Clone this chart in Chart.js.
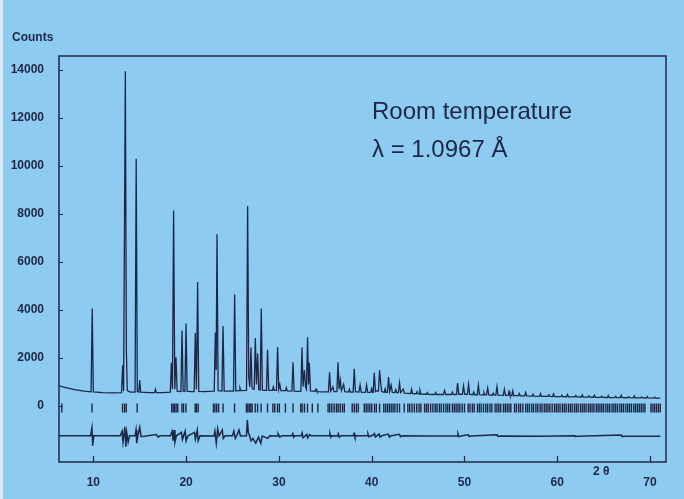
<!DOCTYPE html>
<html><head><meta charset="utf-8">
<script src="https://cdn.jsdelivr.net/npm/chart.js@4/dist/chart.umd.min.js"></script>
<style>
html,body{margin:0;padding:0;background:#8dcbf0;}
#wrap{position:relative;width:684px;height:499px;}
canvas{display:block;}
</style></head><body>
<div id="wrap"><canvas id="c" width="684" height="499"></canvas></div>
<script>
// ---- data ----
const xTickLabels = [10, 20, 30, 40, 50, 60, 70];
const yTickLabels = [0, 2000, 4000, 6000, 8000, 10000, 12000, 14000];

// observed powder pattern: [2theta, counts]
const observed = [
 [6.30,840],[7.0,770],[8.0,680],[9.0,620],
 [9.76,590],[9.88,4060],[10.0,590],[11.0,560],[12.0,545],
 [13.04,560],[13.16,1700],[13.26,620],[13.45,13950],[13.56,2300],[13.66,640],[14.0,580],
 [14.5,580],[14.62,10300],[14.74,600],[14.9,580],[15.0,1080],[15.1,580],[16.0,560],
 [16.6,560],[16.7,700],[16.8,560],[17.5,560],
 [18.3,580],[18.41,1800],[18.53,700],[18.65,8150],[18.78,700],[18.91,2030],[19.03,620],
 [19.44,600],[19.56,3150],[19.68,620],[19.87,610],[19.99,3440],[20.11,620],[20.5,600],
 [20.87,600],[20.99,3040],[21.11,700],[21.24,5170],[21.36,610],[22.0,600],[22.5,610],
 [23.03,620],[23.15,3060],[23.24,1500],[23.33,7160],[23.45,640],
 [23.86,620],[23.98,3330],[24.10,620],[24.6,620],
 [25.11,620],[25.23,4650],[25.35,630],[25.7,640],[25.8,760],[25.9,640],
 [26.51,650],[26.63,8330],[26.75,1200],[26.87,800],[26.99,2440],[27.1,760],[27.2,700],
 [27.34,700],[27.46,2830],[27.58,900],[27.71,2190],[27.83,680],
 [27.98,670],[28.10,4060],[28.22,660],[28.45,650],
 [28.66,650],[28.78,2340],[28.9,650],[29.3,650],[29.4,800],[29.5,650],
 [29.74,650],[29.86,2460],[29.98,700],[30.1,900],[30.22,640],[30.7,640],[30.8,760],[30.9,630],
 [31.40,620],[31.52,1820],[31.64,620],[32.1,610],
 [32.37,620],[32.49,2440],[32.6,800],[32.75,1500],[32.87,800],[32.97,700],[33.09,2860],
 [33.19,900],[33.28,1800],[33.4,630],[33.9,610],[34.0,700],[34.1,600],[34.8,590],
 [35.34,590],[35.46,1410],[35.58,620],[35.82,800],[35.94,600],
 [36.25,600],[36.37,1820],[36.49,700],[36.62,1080],[36.74,650],[36.98,900],[37.1,600],
 [37.5,580],[37.6,700],[37.7,580],[38.0,580],[38.12,1550],[38.24,600],
 [38.63,580],[38.75,870],[38.87,580],[39.33,570],[39.45,870],[39.57,570],
 [39.9,570],[40.0,720],[40.1,570],[40.16,570],[40.28,1380],[40.4,600],[40.6,640],
 [40.73,620],[40.85,1490],[40.96,1000],[41.08,600],[41.35,570],[41.45,720],[41.55,570],
 [41.70,570],[41.82,1210],[41.94,620],[42.1,870],[42.22,570],[42.5,560],[42.6,680],[42.7,560],
 [42.88,560],[43.0,960],[43.12,560],[43.4,700],[43.52,540],[43.9,530],
 [44.2,520],[44.3,700],[44.4,520],[44.8,510],[44.9,600],[45.0,510],
 [45.1,500],[45.2,650],[45.3,500],[45.9,490],[46.0,560],[46.1,490],
 [46.8,480],[46.9,560],[47.0,480],[47.74,480],[47.86,650],[47.98,480],
 [48.6,480],[48.7,580],[48.8,480],[49.14,480],[49.26,960],[49.38,490],
 [49.78,490],[49.9,830],[50.02,490],[50.32,490],[50.44,900],[50.56,480],
 [50.9,470],[51.0,580],[51.1,470],[51.38,470],[51.5,870],[51.62,470],
 [52.0,460],[52.1,560],[52.2,460],[52.38,460],[52.5,750],[52.62,460],
 [53.0,450],[53.1,540],[53.2,450],[53.38,450],[53.5,800],[53.62,450],
 [54.18,440],[54.3,700],[54.42,440],[54.7,440],[54.8,600],[54.9,440],
 [55.1,430],[55.2,620],[55.3,430],[55.8,430],[55.9,520],[56.0,420],
 [56.5,420],[56.6,560],[56.7,420],[57.3,410],[57.4,490],[57.5,410],
 [58.1,400],[58.2,520],[58.3,400],[59.0,400],[59.1,470],[59.2,400],
 [59.5,395],[59.6,500],[59.7,395],[60.4,390],[60.5,450],[60.6,390],
 [61.0,385],[61.1,480],[61.2,385],[61.9,380],[62.0,440],[62.1,380],
 [62.6,375],[62.7,470],[62.8,375],[63.3,370],[63.4,420],[63.5,370],
 [63.9,365],[64.0,450],[64.1,365],[64.7,360],[64.8,410],[64.9,360],
 [65.4,355],[65.5,440],[65.6,355],[66.2,350],[66.3,400],[66.4,350],
 [66.8,350],[66.9,450],[67.0,350],[67.6,345],[67.7,390],[67.8,345],
 [68.2,340],[68.3,420],[68.4,340],[69.0,340],[69.1,380],[69.2,340],
 [69.6,335],[69.7,400],[69.8,335],[70.4,330],[70.5,370],[70.6,330],[71.1,325]
];

// Bragg reflection positions (2theta)
const reflections = [
 6.6, 9.86, 13.15, 13.37, 13.55, 14.72,
 18.45, 18.6, 18.75, 18.92, 19.1, 19.55, 19.72, 19.98, 20.98, 21.12, 21.3,
 22.95, 23.1, 23.3, 23.5, 23.98, 25.22, 26.5, 26.65, 26.8, 26.97, 27.12, 27.45, 27.7,
 28.08, 28.77, 29.35, 29.55, 29.85, 30.05, 30.7, 31.52, 32.35, 32.5, 32.75, 33.08,
 33.6, 34.2, 35.3, 35.48, 35.7, 35.95, 36.2, 36.38, 36.6, 36.85, 37.05, 37.9, 38.12,
 38.35, 38.55, 39.2, 39.4, 39.6, 39.8, 40.0, 40.3, 40.5, 40.85, 41.3, 41.5, 41.7,
 41.9, 42.1, 42.3, 42.5, 42.75, 43.0, 43.5, 43.9, 44.1, 44.35, 44.6, 44.85, 45.1,
 45.3, 45.7, 45.9, 46.1, 46.35, 46.6, 46.85, 47.05, 47.3, 47.5, 47.75, 48.0, 48.2,
 48.4, 48.7, 48.9, 49.1, 49.3, 49.5, 49.75, 50.0, 50.4, 50.6, 50.85, 51.05, 51.4,
 51.6, 51.8, 52.05, 52.3, 52.5, 52.75, 52.95, 53.3, 53.5, 53.7, 53.9, 54.2, 54.4,
 54.6, 54.8, 55.0, 55.4, 55.6, 55.85, 56.05, 56.3, 56.6, 56.8, 57.0, 57.25, 57.45,
 57.7, 57.9, 58.15, 58.35, 58.6, 58.8, 59.0, 59.2, 59.45, 59.7, 59.9, 60.1, 60.3,
 60.55, 60.75, 60.95, 61.2, 61.4, 61.6, 61.85, 62.05, 62.25, 62.5, 62.7, 62.9, 63.1,
 63.35, 63.55, 63.75, 63.95, 64.2, 64.4, 64.6, 64.8, 65.0, 65.25, 65.45, 65.65, 65.9,
 66.1, 66.3, 66.5, 66.75, 66.95, 67.15, 67.4, 67.6, 67.8, 68.0, 68.25, 68.45, 68.65,
 68.85, 69.05, 69.25, 69.45, 70.1, 70.3, 70.5, 70.7, 70.9, 71.1
];
const reflectionLevel = -85;

// difference curve (obs - calc), offset: [2theta, counts]
const difference = [
 [6.30,-1240],[9.7,-1240],[9.85,-900],[9.93,-1650],[10.05,-1240],[12.9,-1240],[13.1,-1050],
 [13.2,-1500],[13.4,-870],[13.5,-1700],[13.6,-1100],[13.75,-1500],[13.9,-1240],[14.5,-1240],
 [14.6,-1000],[14.68,-1550],[14.8,-1240],[15.0,-880],[15.15,-1280],[16.8,-1190],[17.0,-1300],
 [17.2,-1240],[18.3,-1240],[18.5,-1050],[18.6,-1450],[18.7,-1000],[18.8,-1500],[18.95,-1240],
 [19.5,-1100],[19.6,-1400],[19.9,-1050],[20.0,-1450],[20.2,-1240],[20.9,-1100],[21.0,-1380],
 [21.2,-1000],[21.3,-1450],[21.5,-1240],[23.0,-1250],[23.1,-1050],[23.25,-1550],[23.4,-950],
 [23.55,-1240],[23.9,-1000],[24.0,-1350],[24.2,-1240],[25.0,-1240],[25.15,-1050],[25.3,-1350],
 [25.45,-1240],[25.7,-1000],[25.85,-1250],[26.5,-1240],[26.6,-580],[26.7,-1100],[26.85,-1250],
 [27.0,-1450],[27.2,-1350],[27.5,-1550],[27.8,-1300],[28.05,-1550],[28.2,-1250],[28.8,-1350],
 [29.0,-1240],[29.8,-1250],[29.9,-1150],[30.1,-1300],[30.3,-1240],[31.4,-1240],[31.5,-1150],
 [31.6,-1300],[31.7,-1240],[32.4,-1240],[32.5,-1120],[32.6,-1320],[33.0,-1180],[33.1,-1330],
 [33.3,-1200],[33.5,-1240],[35.4,-1240],[35.5,-1150],[35.6,-1300],[35.7,-1240],[36.3,-1250],
 [36.4,-1150],[36.5,-1300],[36.7,-1240],[38.0,-1240],[38.1,-1150],[38.2,-1300],[38.3,-1240],
 [39.5,-1240],[39.6,-1160],[39.7,-1280],[40.2,-1200],[40.3,-1150],[40.4,-1290],[40.8,-1170],
 [40.9,-1300],[41.1,-1240],[41.8,-1170],[41.9,-1290],[42.1,-1240],[43.0,-1180],[43.1,-1280],
 [43.3,-1240],[46.0,-1245],[49.2,-1245],[49.3,-1160],[49.4,-1280],[49.6,-1245],[50.4,-1200],
 [50.5,-1270],[50.7,-1245],[53.5,-1200],[53.6,-1270],[53.8,-1250],[58.0,-1255],[61.9,-1235],
 [62.0,-1275],[62.2,-1255],[66.9,-1210],[67.0,-1275],[67.2,-1260],[71.1,-1265]
];

const INK = '#1c2748';
const BG = '#8dcbf0';

const framePlugin = {
  id: 'frame',
  beforeDraw(chart) {
    const ctx = chart.ctx;
    ctx.save();
    ctx.fillStyle = BG;
    ctx.fillRect(0, 0, chart.width, chart.height);
    ctx.fillStyle = '#d6ecfa';
    ctx.fillRect(0, 0, 3, chart.height);
    ctx.restore();
  },
  afterDraw(chart) {
    const ctx = chart.ctx, a = chart.chartArea;
    const xs = chart.scales.x, ys = chart.scales.y;
    ctx.save();
    ctx.strokeStyle = INK;
    ctx.lineWidth = 1.5;
    ctx.strokeRect(a.left, a.top, a.right - a.left, a.bottom - a.top);
    ctx.lineWidth = 1.2;
    ctx.beginPath();
    yTickLabels.forEach(v => {
      const py = Math.round(ys.getPixelForValue(v)) + 0.5;
      ctx.moveTo(a.left, py); ctx.lineTo(a.left + 4, py);
    });
    xTickLabels.forEach(v => {
      const px = Math.round(xs.getPixelForValue(v)) + 0.5;
      ctx.moveTo(px, a.bottom); ctx.lineTo(px, a.bottom - 6);
    });
    ctx.stroke();
    ctx.fillStyle = INK;
    ctx.textBaseline = 'middle';
    ctx.textAlign = 'left';
    ctx.font = 'bold 12px "Liberation Sans", Arial, sans-serif';
    ctx.fillText('Counts', 12, 38);
    ctx.textAlign = 'center';
    ctx.fillText('2 \u03b8', xs.getPixelForValue(64.75), 472);
    ctx.textAlign = 'left';
    ctx.font = '24px "Liberation Sans", Arial, sans-serif';
    ctx.fillText('Room temperature', 372, 112);
    ctx.fillText('\u03bb = 1.0967 \u00c5', 372, 150);
    ctx.restore();
  }
};

new Chart(document.getElementById('c'), {
  type: 'scatter',
  data: {
    datasets: [
      { label: 'observed', data: observed.map(p => ({x: p[0], y: p[1]})), showLine: true,
        borderColor: INK, borderWidth: 1.3, pointRadius: 0, tension: 0 },
      { label: 'reflections', data: reflections.map(t => ({x: t, y: reflectionLevel})), showLine: false,
        pointStyle: 'line', rotation: 90, radius: 4.5, borderColor: INK, borderWidth: 1.4,
        backgroundColor: INK },
      { label: 'difference', data: difference.map(p => ({x: p[0], y: p[1]})), showLine: true,
        borderColor: INK, borderWidth: 1.5, pointRadius: 0, tension: 0 }
    ]
  },
  options: {
    responsive: false,
    animation: false,
    layout: { padding: { top: 56, right: 18, left: 0, bottom: 0 } },
    plugins: { legend: { display: false }, tooltip: { enabled: false }, title: { display: false } },
    scales: {
      x: {
        type: 'linear', min: 6.3, max: 71.72,
        afterFit: s => { s.height = 37; },
        grid: { display: false }, border: { display: false },
        afterBuildTicks: s => { s.ticks = xTickLabels.map(v => ({value: v})); },
        ticks: { color: INK, padding: 5, maxRotation: 0, autoSkip: false,
          font: { family: '"Liberation Sans", Arial, sans-serif', size: 12, weight: 'bold' },
          callback: v => String(v) }
      },
      y: {
        type: 'linear', min: -2333, max: 14583,
        afterFit: s => { s.width = 59; },
        grid: { display: false }, border: { display: false },
        afterBuildTicks: s => { s.ticks = yTickLabels.map(v => ({value: v})); },
        ticks: { color: INK, padding: 7, autoSkip: false,
          font: { family: '"Liberation Sans", Arial, sans-serif', size: 12, weight: 'bold' },
          callback: v => String(v) }
      }
    }
  },
  plugins: [framePlugin]
});
</script>
</body></html>
